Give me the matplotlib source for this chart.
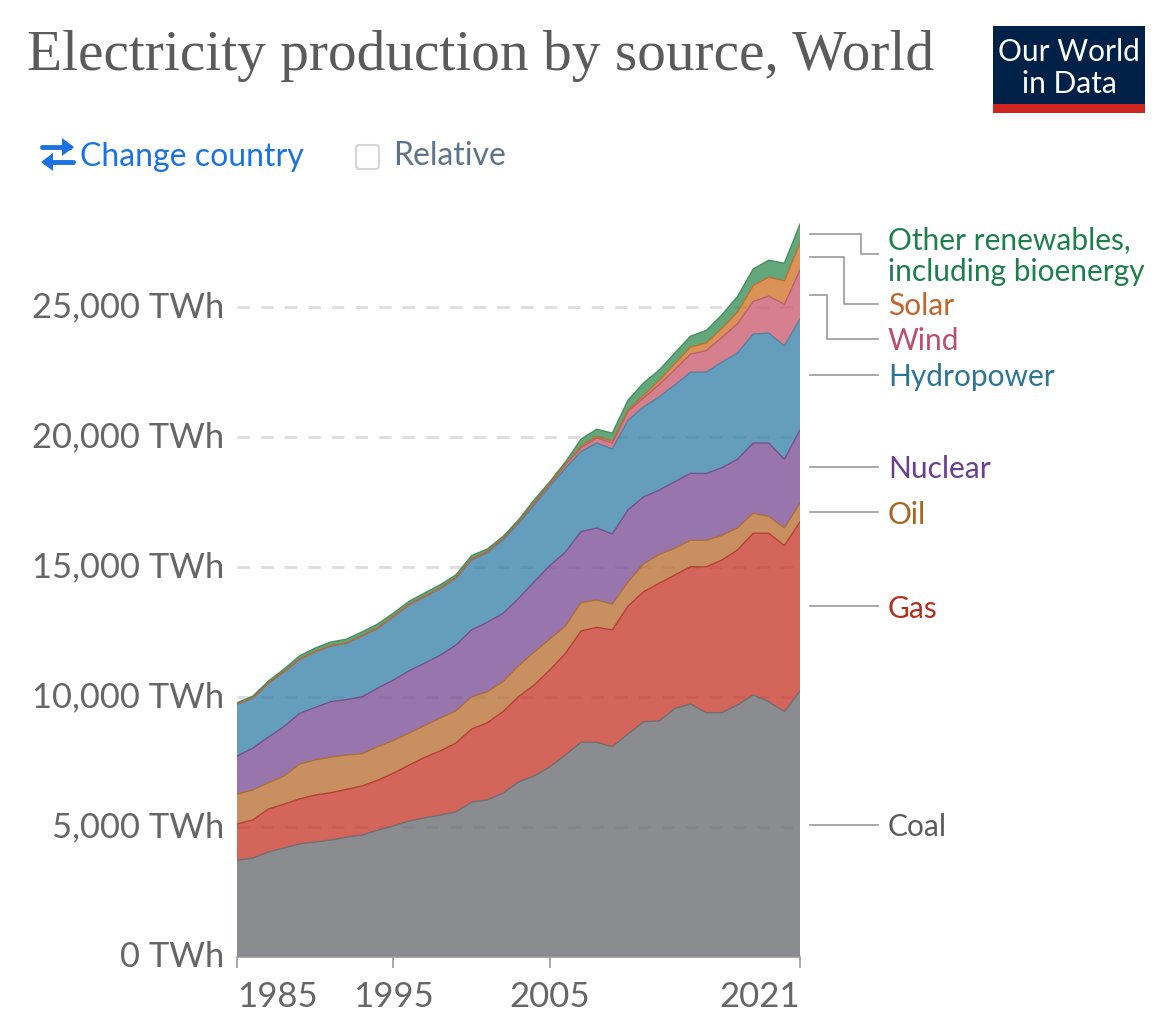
import matplotlib
matplotlib.use("Agg")
import matplotlib.pyplot as plt
from matplotlib.patches import Rectangle, FancyBboxPatch, Polygon
from matplotlib.transforms import ScaledTranslation

plt.rcParams['font.family'] = ['Lato', 'DejaVu Sans']

years = list(range(1985, 2022))

# TWh
coal = [3730, 3800, 4040, 4190, 4350, 4420, 4500, 4610, 4690, 4880, 5040, 5230, 5350, 5460, 5580, 5960, 6040, 6300, 6730,
        6960, 7310, 7770, 8260, 8260, 8090, 8577, 9050, 9077, 9564, 9730, 9397, 9397, 9692, 10077, 9820, 9435, 10230]
gas = [1385, 1470, 1650, 1690, 1730, 1810, 1820, 1840, 1890, 1920, 2030, 2150, 2330, 2470, 2650, 2810, 2970, 3135, 3280,
       3500, 3730, 3910, 4280, 4420, 4490, 4920, 5000, 5300, 5130, 5280, 5610, 5870, 5960, 6220, 6480, 6390, 6510]
oil = [1155, 1150, 1010, 1080, 1340, 1350, 1370, 1320, 1240, 1290, 1260, 1230, 1220, 1260, 1240, 1230, 1190, 1155, 1190,
       1270, 1190, 1060, 1090, 1050, 1000, 930, 1070, 1110, 1030, 1020, 1020, 950, 850, 770, 650, 680, 720]
nuclear = [1460, 1610, 1760, 1900, 1950, 2020, 2130, 2130, 2190, 2250, 2320, 2400, 2400, 2420, 2530, 2580, 2670, 2620, 2590,
           2700, 2820, 2840, 2730, 2770, 2690, 2770, 2580, 2470, 2560, 2570, 2570, 2600, 2640, 2700, 2820, 2640, 2810]
hydro = [2000, 1930, 2070, 2110, 2080, 2140, 2150, 2170, 2340, 2310, 2440, 2530, 2560, 2560, 2570, 2690, 2680, 2830, 2890,
         2950, 3050, 3220, 3080, 3270, 3270, 3450, 3460, 3590, 3720, 3890, 3900, 4060, 4090, 4190, 4230, 4360, 4270]
wind = [0, 0, 0, 1, 3, 4, 4, 5, 6, 7, 8, 9, 12, 16, 21, 31, 38, 52, 63,
        85, 104, 133, 150, 190, 230, 330, 350, 470, 590, 700, 820, 950, 1120, 1250, 1420, 1600, 1880]
solar = [0, 0, 0, 0, 0, 0, 0, 0, 0, 0, 0, 1, 1, 1, 1, 1, 1, 2, 2,
         3, 4, 7, 60, 60, 80, 60, 90, 160, 230, 270, 300, 350, 450, 610, 730, 900, 1040]
other = [50, 70, 80, 100, 130, 140, 140, 150, 150, 150, 130, 130, 130, 130, 108, 138, 101, 76, 65,
         112, 72, 100, 270, 280, 300, 380, 480, 400, 410, 420, 480, 520, 600, 640, 650, 680, 730]

series = [coal, gas, oil, nuclear, hydro, wind, solar, other]
fill_colors = ['#6e6f75', '#c93e32', '#bb7438', '#80539a', '#3e85ab', '#cc6073', '#d2772d', '#3c9159']
line_colors = ['#6a6b70', '#b13a2c', '#a86a34', '#6f4a8a', '#4d7f9c', '#b8586c', '#bd6c2b', '#3d8a57']

y_ticks = [0, 5000, 10000, 15000, 20000, 25000]
y_labels = ['0 TWh', '5,000 TWh', '10,000 TWh', '15,000 TWh', '20,000 TWh', '25,000 TWh']
x_ticks = [1985, 1995, 2005, 2021]

W, H = 1176, 1036
fig = plt.figure(figsize=(W / 100, H / 100), dpi=100)

# axes box is 237..800 wide, zero at y=957, 26 px per 1000 TWh
y_max = 28500
top_px = 957 - y_max * 0.026
ax = fig.add_axes([237 / W, (H - 957) / H, (800 - 237) / W, (957 - top_px) / H])

ax.set_axisbelow(True)
for t in y_ticks[1:]:
    ax.axhline(t, color='#dddddd', lw=2, dashes=(4.5, 4), zorder=0)

ax.stackplot(years, series, colors=fill_colors, alpha=0.8, lw=0, zorder=2)
bottom = [0] * len(years)
for s, c in zip(series, line_colors):
    bottom = [b + v for b, v in zip(bottom, s)]
    ax.plot(years, bottom, color=c, lw=1, zorder=3, alpha=0.9)

ax.set_xlim(1985, 2021)
ax.set_ylim(0, y_max)
for sp in ['top', 'left', 'right']:
    ax.spines[sp].set_visible(False)
ax.spines['bottom'].set_color('#999999')
ax.spines['bottom'].set_linewidth(1.2)

ax.set_yticks(y_ticks)
ax.set_yticklabels(y_labels, fontsize=24.8, color='#666666')
ax.tick_params(axis='y', length=0, pad=9)
# tick labels sit a bit higher than centred in the original
up = ScaledTranslation(0, 2 / 72, fig.dpi_scale_trans)
for lab in ax.get_yticklabels():
    lab.set_transform(lab.get_transform() + up)
ax.set_xticks(x_ticks)
ax.set_xticklabels([str(x) for x in x_ticks], fontsize=25, color='#666666')
ax.tick_params(axis='x', length=8, width=1.2, color='#999999', pad=9)
xl = ax.get_xticklabels()
xl[0].set_ha('left')
xl[-1].set_ha('right')

# everything around the plot, in pixel coordinates
over = fig.add_axes([0, 0, 1, 1])
over.set_xlim(0, W)
over.set_ylim(H, 0)
over.axis('off')
over.patch.set_alpha(0)

over.text(27, 56, 'Electricity production by source, World', family=['Liberation Serif', 'DejaVu Serif'],
          fontsize=41.3, color='#5b5b5b', va='center', ha='left')

# logo
over.add_patch(Rectangle((993, 26), 152, 78, color='#002147', lw=0))
over.add_patch(Rectangle((993, 104), 152, 9, color='#ce261e', lw=0))
over.text(1069, 52, 'Our World', color='white', fontsize=21.5, ha='center', va='center')
over.text(1069, 84, 'in Data', color='white', fontsize=21.5, ha='center', va='center')

# controls
blue = '#1a73e0'
over.plot([42, 70], [147, 147], color=blue, lw=3.5, solid_capstyle='round')
over.add_patch(Polygon([[62, 138], [74, 147], [62, 156]], color=blue, lw=0))
over.plot([45, 73], [162, 162], color=blue, lw=3.5, solid_capstyle='round')
over.add_patch(Polygon([[53, 153], [41, 162], [53, 171]], color=blue, lw=0))
over.text(80, 157, 'Change country', color=blue, fontsize=23, ha='left', va='center')
over.add_patch(FancyBboxPatch((357, 146), 21, 22, boxstyle='round,pad=1,rounding_size=3',
                              fc='white', ec='#d5d5d5', lw=1.5))
over.text(393, 156, 'Relative', color='#5f7389', fontsize=23, ha='left', va='center')

# series labels with their connector lines
conn = '#999999'
connectors = [
    ([810, 861, 861, 878], [233.7, 233.7, 254, 254]),
    ([810, 844, 844, 878], [257, 257, 304, 304]),
    ([810, 827, 827, 878], [295, 295, 339, 339]),
    ([810, 878], [374.5, 374.5]),
    ([810, 878], [466.5, 466.5]),
    ([810, 878], [512, 512]),
    ([810, 878], [606, 606]),
    ([810, 878], [824.5, 824.5]),
]
for xs, ys in connectors:
    over.plot(xs, ys, color=conn, lw=1.2)

labels = [
    ('Other renewables,', 241, '#1f7f4c'),
    ('including bioenergy', 272, '#1f7f4c'),
    ('Solar', 306, '#c0652b'),
    ('Wind', 341, '#b9506c'),
    ('Hydropower', 377, '#2c7596'),
    ('Nuclear', 469, '#6b3f8f'),
    ('Oil', 515, '#a8631f'),
    ('Gas', 609, '#b2301f'),
    ('Coal', 827, '#5b5b5b'),
]
for txt, y, c in labels:
    over.text(888, y, txt, color=c, fontsize=21.5, ha='left', va='center')

fig.savefig('out.png', dpi=100)
